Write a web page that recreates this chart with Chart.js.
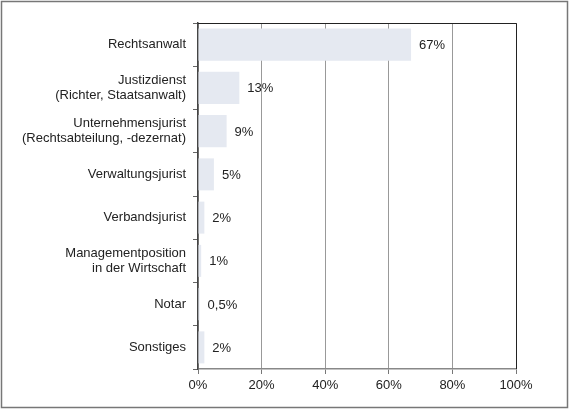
<!DOCTYPE html>
<html>
<head>
<meta charset="utf-8">
<script src="https://cdn.jsdelivr.net/npm/chart.js@4"></script>
<style>
  html, body { margin: 0; padding: 0; background: #fff; }
  #wrap { width: 572px; height: 412px; position: relative; }
</style>
</head>
<body>
<div id="wrap"><canvas id="berufChart"></canvas></div>
<script>
// Kategorien und Werte (in %)
const categories = [
    'Rechtsanwalt',
    ['Justizdienst', '(Richter, Staatsanwalt)'],
    ['Unternehmensjurist', '(Rechtsabteilung, -dezernat)'],
    'Verwaltungsjurist',
    'Verbandsjurist',
    ['Managementposition', 'in der Wirtschaft'],
    'Notar',
    'Sonstiges'
];
const shares = [67, 13, 9, 5, 2, 1, 0.5, 2];
const xTicks = [0, 20, 40, 60, 80, 100];

const FONT = '"Liberation Sans", Arial, sans-serif';

// Rahmen + Werte neben den Balken
const framePlugin = {
    id: 'framePlugin',
    afterDatasetsDraw(chart) {
        const ctx = chart.ctx;
        const area = chart.chartArea;
        const meta = chart.getDatasetMeta(0);
        ctx.save();
        ctx.font = '13px ' + FONT;
        ctx.fillStyle = '#222';
        ctx.textBaseline = 'middle';
        ctx.textAlign = 'left';
        meta.data.forEach((bar, i) => {
            const txt = String(shares[i]).replace('.', ',') + '%';
            ctx.fillText(txt, bar.x + 8, bar.y + 1);
        });
        // oberer und rechter Rand des Diagramms
        ctx.strokeStyle = '#222';
        ctx.lineWidth = 1;
        ctx.beginPath();
        ctx.moveTo(area.left, area.top + 0.5);
        ctx.lineTo(area.right + 0.5, area.top + 0.5);
        ctx.lineTo(area.right + 0.5, area.bottom);
        ctx.stroke();
        // äußerer Rahmen
        ctx.strokeStyle = '#777';
        ctx.lineWidth = 1.5;
        ctx.strokeRect(1.5, 1.5, 566, 406);
        ctx.restore();
    }
};

const ctx = document.getElementById('berufChart').getContext('2d');
new Chart(ctx, {
    type: 'bar',
    data: {
        labels: categories,
        datasets: [{
            data: shares,
            backgroundColor: '#e5e9f1',
            borderWidth: 0,
            barPercentage: 0.74,
            categoryPercentage: 1
        }]
    },
    options: {
        indexAxis: 'y',
        responsive: true,
        maintainAspectRatio: false,
        animation: false,
        layout: { padding: { top: 23, right: 56, left: 0, bottom: 12 } },
        plugins: {
            legend: { display: false },
            tooltip: { enabled: false }
        },
        scales: {
            x: {
                min: 0,
                max: 100,
                afterBuildTicks(scale) {
                    scale.ticks = xTicks.map(v => ({ value: v }));
                },
                afterFit(scale) { scale.height = 31; },
                ticks: {
                    callback: v => v + '%',
                    color: '#222',
                    font: { family: FONT, size: 13 },
                    padding: 4,
                    maxRotation: 0
                },
                grid: { color: '#999', lineWidth: 1, tickLength: 5, tickColor: '#777' },
                border: { color: '#888', width: 1.5 }
            },
            y: {
                afterFit(scale) { scale.width = 198; },
                ticks: {
                    color: '#222',
                    font: { family: FONT, size: 13, lineHeight: 1.15 },
                    padding: 7
                },
                grid: { drawOnChartArea: false, tickLength: 5, color: '#666', offset: true },
                border: { color: '#444', width: 1.5 }
            }
        }
    },
    plugins: [framePlugin]
});
</script>
</body>
</html>
